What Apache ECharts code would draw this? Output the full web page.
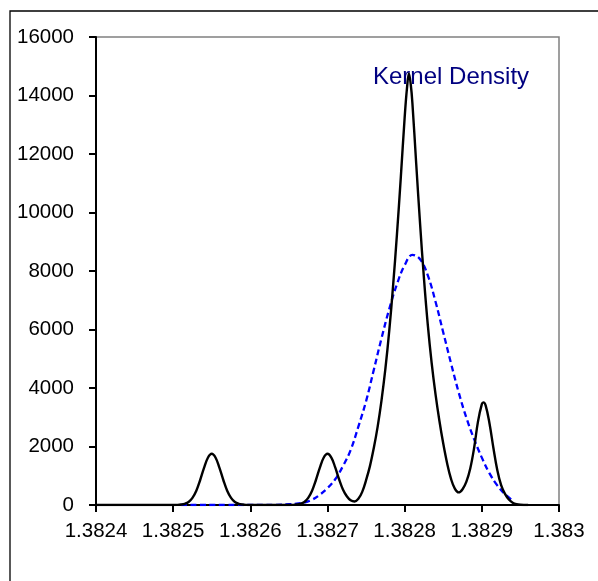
<!DOCTYPE html>
<html>
<head>
<meta charset="utf-8">
<script src="https://cdn.jsdelivr.net/npm/echarts@6/dist/echarts.min.js"></script>
<style>
html,body{margin:0;padding:0;background:#fff;}
#chart{width:598px;height:581px;}
</style>
</head>
<body>
<div id="chart"></div>
<script>
// Black curve (density of observations)
const blackX = [1.3824,1.38245,1.3825,1.382505,1.38251,1.382515,1.38252,1.382525,1.38253,1.382535,1.38254,1.382545,1.38255,1.382555,1.38256,1.382565,1.38257,1.382575,1.38258,1.382585,1.38259,1.382595,1.3826,1.38263,1.38265,1.382655,1.38266,1.382665,1.38267,1.382675,1.38268,1.382685,1.38269,1.382695,1.3827,1.382705,1.38271,1.382715,1.38272,1.382725,1.38273,1.382735,1.38274,1.382745,1.38275,1.382755,1.38276,1.382765,1.38277,1.382775,1.38278,1.382785,1.38279,1.382795,1.3828,1.382803,1.3828055,1.382808,1.38281,1.382815,1.38282,1.382825,1.38283,1.382835,1.38284,1.382845,1.38285,1.382855,1.38286,1.382865,1.38287,1.382875,1.38288,1.382885,1.38289,1.382895,1.3829,1.382902,1.382905,1.38291,1.382915,1.38292,1.382925,1.38293,1.382935,1.38294,1.382945,1.38295,1.38296];
const blackY = [0,0,1,4,15,42,105,245,490,855,1270,1615,1750,1615,1270,855,490,245,105,42,15,4,1,0,1,4,15,42,105,245,490,855,1270,1615,1750,1620,1285,880,530,300,160,118,210,450,850,1330,1950,2680,3580,4650,5950,7500,9250,11200,13250,14250,14750,14350,13750,11650,9600,7750,6150,4850,3780,2880,2100,1430,900,560,430,540,800,1250,1950,2850,3450,3510,3400,2780,1950,1200,680,380,190,80,28,8,0];

// Blue dashed curve (Kernel Density)
const kdeX = [1.38251,1.38252,1.38253,1.38254,1.38255,1.38256,1.38257,1.38258,1.38259,1.3826,1.38261,1.38262,1.38263,1.38264,1.38265,1.38266,1.38267,1.38268,1.38269,1.3827,1.38271,1.38272,1.38273,1.38274,1.38275,1.38276,1.38277,1.38278,1.38279,1.3828,1.38281,1.38282,1.38283,1.38284,1.38285,1.38286,1.38287,1.38288,1.38289,1.3829,1.38291,1.38292,1.38293,1.38294];
const kdeY = [0,0,0,0,0,0,0,0,0,1,2,3,6,12,25,45,85,180,350,580,880,1330,1880,2680,3550,4620,5700,6700,7550,8200,8550,8400,7850,6950,5900,4850,3850,2980,2250,1620,1080,670,370,150];

const legendText = 'Kernel Density';
const xMin = 1.3824, xMax = 1.383, xStep = 0.0001;
const yMin = 0, yMax = 16000, yStep = 2000;

const chart = echarts.init(document.getElementById('chart'), null, {renderer: 'canvas'});
const font = 'Liberation Sans, Arial, sans-serif';
chart.setOption({
  animation: false,
  backgroundColor: '#ffffff',
  grid: {left: 96, right: 39, top: 37, bottom: 76, show: true, borderColor: '#808080', borderWidth: 1.5, backgroundColor: 'transparent'},
  graphic: [
    {type: 'rect', shape: {x: 10, y: 11, width: 700, height: 700}, style: {fill: 'none', stroke: '#000', lineWidth: 1.3}, silent: true, z: -10},
    {type: 'text', left: 373, top: 65, style: {text: legendText, fill: '#000080', font: '24px ' + font}}
  ],
  xAxis: {
    type: 'value', min: xMin, max: xMax, interval: xStep,
    axisLine: {show: true, onZero: false, lineStyle: {color: '#000', width: 2}},
    axisTick: {show: true, inside: false, length: 7, lineStyle: {color: '#000', width: 2}},
    splitLine: {show: false},
    axisLabel: {color: '#000', fontSize: 20.5, fontFamily: font, margin: 16, formatter: v => String(+v.toFixed(4))}
  },
  yAxis: {
    type: 'value', min: yMin, max: yMax, interval: yStep,
    axisLine: {show: true, lineStyle: {color: '#000', width: 2}},
    axisTick: {show: true, inside: false, length: 7, lineStyle: {color: '#000', width: 2}},
    splitLine: {show: false},
    axisLabel: {color: '#000', fontSize: 20.5, fontFamily: font, margin: 22, formatter: v => String(v)}
  },
  series: [
    {type: 'line', name: legendText, data: kdeX.map((x, i) => [x, kdeY[i]]), showSymbol: false, smooth: 0.4,
     lineStyle: {color: '#0000ff', width: 2.3, type: [6, 3.5]}, z: 2},
    {type: 'line', name: 'Density', data: blackX.map((x, i) => [x, blackY[i]]), showSymbol: false, smooth: 0.4,
     lineStyle: {color: '#000000', width: 2.4}, z: 3}
  ]
});
</script>
</body>
</html>
